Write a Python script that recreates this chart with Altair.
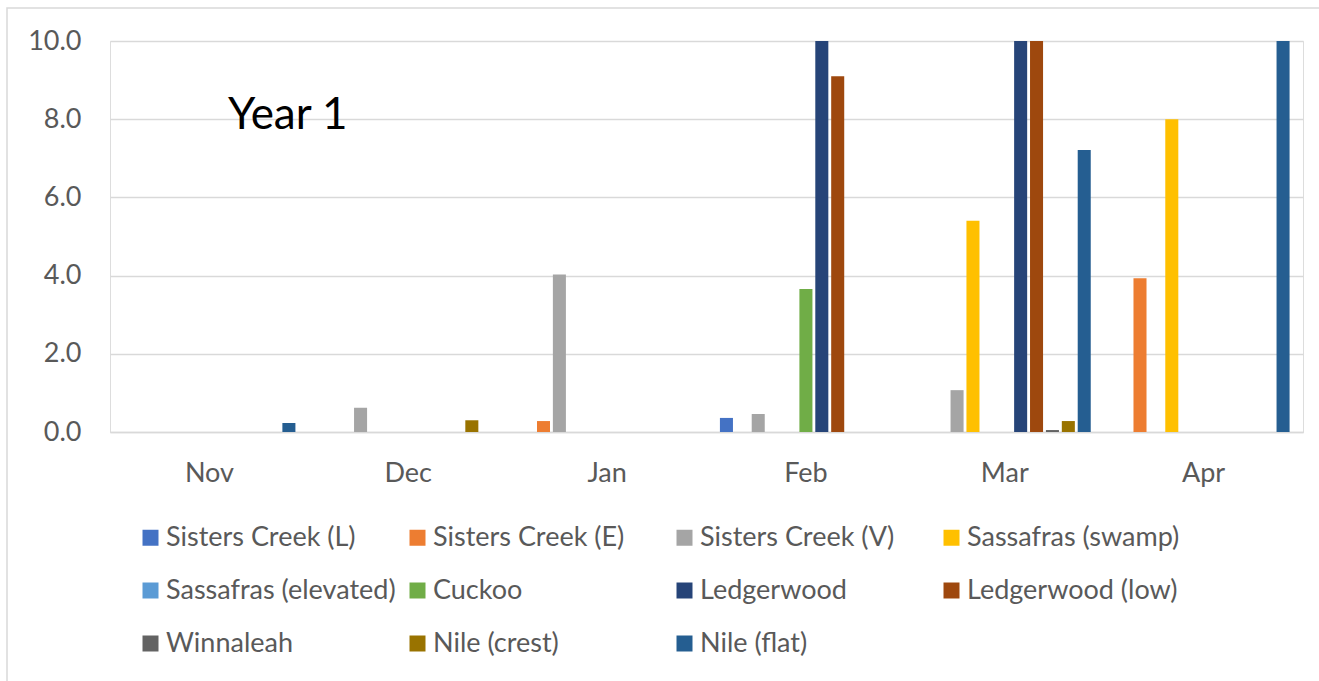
import altair as alt
import pandas as pd

months = ["Nov", "Dec", "Jan", "Feb", "Mar", "Apr"]
series = [
    "Sisters Creek (L)", "Sisters Creek (E)", "Sisters Creek (V)", "Sassafras (swamp)",
    "Sassafras (elevated)", "Cuckoo", "Ledgerwood", "Ledgerwood (low)",
    "Winnaleah", "Nile (crest)", "Nile (flat)",
]
colors = ["#4472C4", "#ED7D31", "#A5A5A5", "#FFC000", "#5B9BD5", "#70AD47",
          "#264478", "#9E480E", "#636363", "#997300", "#255E91"]

sisters_l = [0, 0, 0, 0.36, 0, 0]
sisters_e = [0, 0, 0.28, 0, 0, 3.93]
sisters_v = [0, 0.62, 4.03, 0.46, 1.07, 0]
sass_swamp = [0, 0, 0, 0, 5.40, 8.0]
sass_elev = [0, 0, 0, 0, 0, 0]
cuckoo = [0, 0, 0, 3.66, 0, 0]
ledgerwood = [0, 0, 0, 12.0, 12.0, 0]
ledgerwood_low = [0, 0, 0, 9.10, 12.0, 0]
winnaleah = [0, 0, 0, 0, 0.05, 0]
nile_crest = [0, 0.30, 0, 0, 0.28, 0]
nile_flat = [0.23, 0, 0, 0, 7.21, 12.0]

values = [sisters_l, sisters_e, sisters_v, sass_swamp, sass_elev, cuckoo,
          ledgerwood, ledgerwood_low, winnaleah, nile_crest, nile_flat]

rows = []
for s, vals in zip(series, values):
    for m, v in zip(months, vals):
        rows.append({"Month": m, "Site": s, "Value": v})
df = pd.DataFrame(rows)

# The legend fills its grid column by column (3 rows); order the domain so that
# it reads row by row like the original.
n_cols, n_rows = 4, 3
legend_order = []
for c in range(n_cols):
    for r in range(n_rows):
        i = r * n_cols + c
        if i < len(series):
            legend_order.append(series[i])
legend_colors = [colors[series.index(s)] for s in legend_order]

FONT = "Lato"
GREY = "#595959"
FS = 27

bars = alt.Chart(df).mark_bar(clip=True).encode(
    x=alt.X("Month:N", sort=months, title=None,
            scale=alt.Scale(paddingInner=0.135, paddingOuter=0.0675),
            axis=alt.Axis(labelAngle=0, labelFontSize=FS, labelColor=GREY, labelFont=FONT,
                          labelPadding=28, ticks=False, domainColor="#D9D9D9",
                          domainWidth=1.5)),
    xOffset=alt.XOffset("Site:N", sort=series, scale=alt.Scale(paddingInner=0.18)),
    y=alt.Y("Value:Q", title=None,
            scale=alt.Scale(domain=[0, 10], nice=False, zero=True),
            axis=alt.Axis(values=[0, 2, 4, 6, 8, 10], format=".1f", labelFontSize=FS,
                          labelColor=GREY, labelFont=FONT, labelPadding=29, ticks=False,
                          domain=False, gridColor="#D9D9D9", gridWidth=1.5)),
    color=alt.Color("Site:N",
                    scale=alt.Scale(domain=legend_order, range=legend_colors),
                    legend=alt.Legend(title=None, orient="none", legendX=27, legendY=483,
                                      columns=n_cols, gridAlign="all", columnPadding=8,
                                      rowPadding=25, symbolType="square", symbolSize=256,
                                      symbolStrokeWidth=0, labelFontSize=FS,
                                      labelFont=FONT, labelColor=GREY, labelOffset=2,
                                      labelLimit=400)),
)

title_text = alt.Chart(pd.DataFrame({"t": ["Year 1"]})).mark_text(
    font=FONT, fontSize=44, color="#000000", align="left", baseline="middle"
).encode(text="t:N", x=alt.value(118), y=alt.value(75))

border = alt.Chart(pd.DataFrame({"t": [0]})).mark_rect(
    fill=None, stroke="#D9D9D9", strokeWidth=1.5, clip=False
).encode(x=alt.value(-103), x2=alt.value(1230), y=alt.value(-33), y2=alt.value(700))

chart = alt.layer(border, bars, title_text).properties(
    width=1193, height=391,
    autosize=alt.AutoSizeParams(type="none"),
    padding={"left": 110, "top": 41, "right": 16, "bottom": 249},
).configure_view(stroke=None).configure(background="white")

chart.save("out.html", embed_options={"renderer": "svg", "actions": False})
